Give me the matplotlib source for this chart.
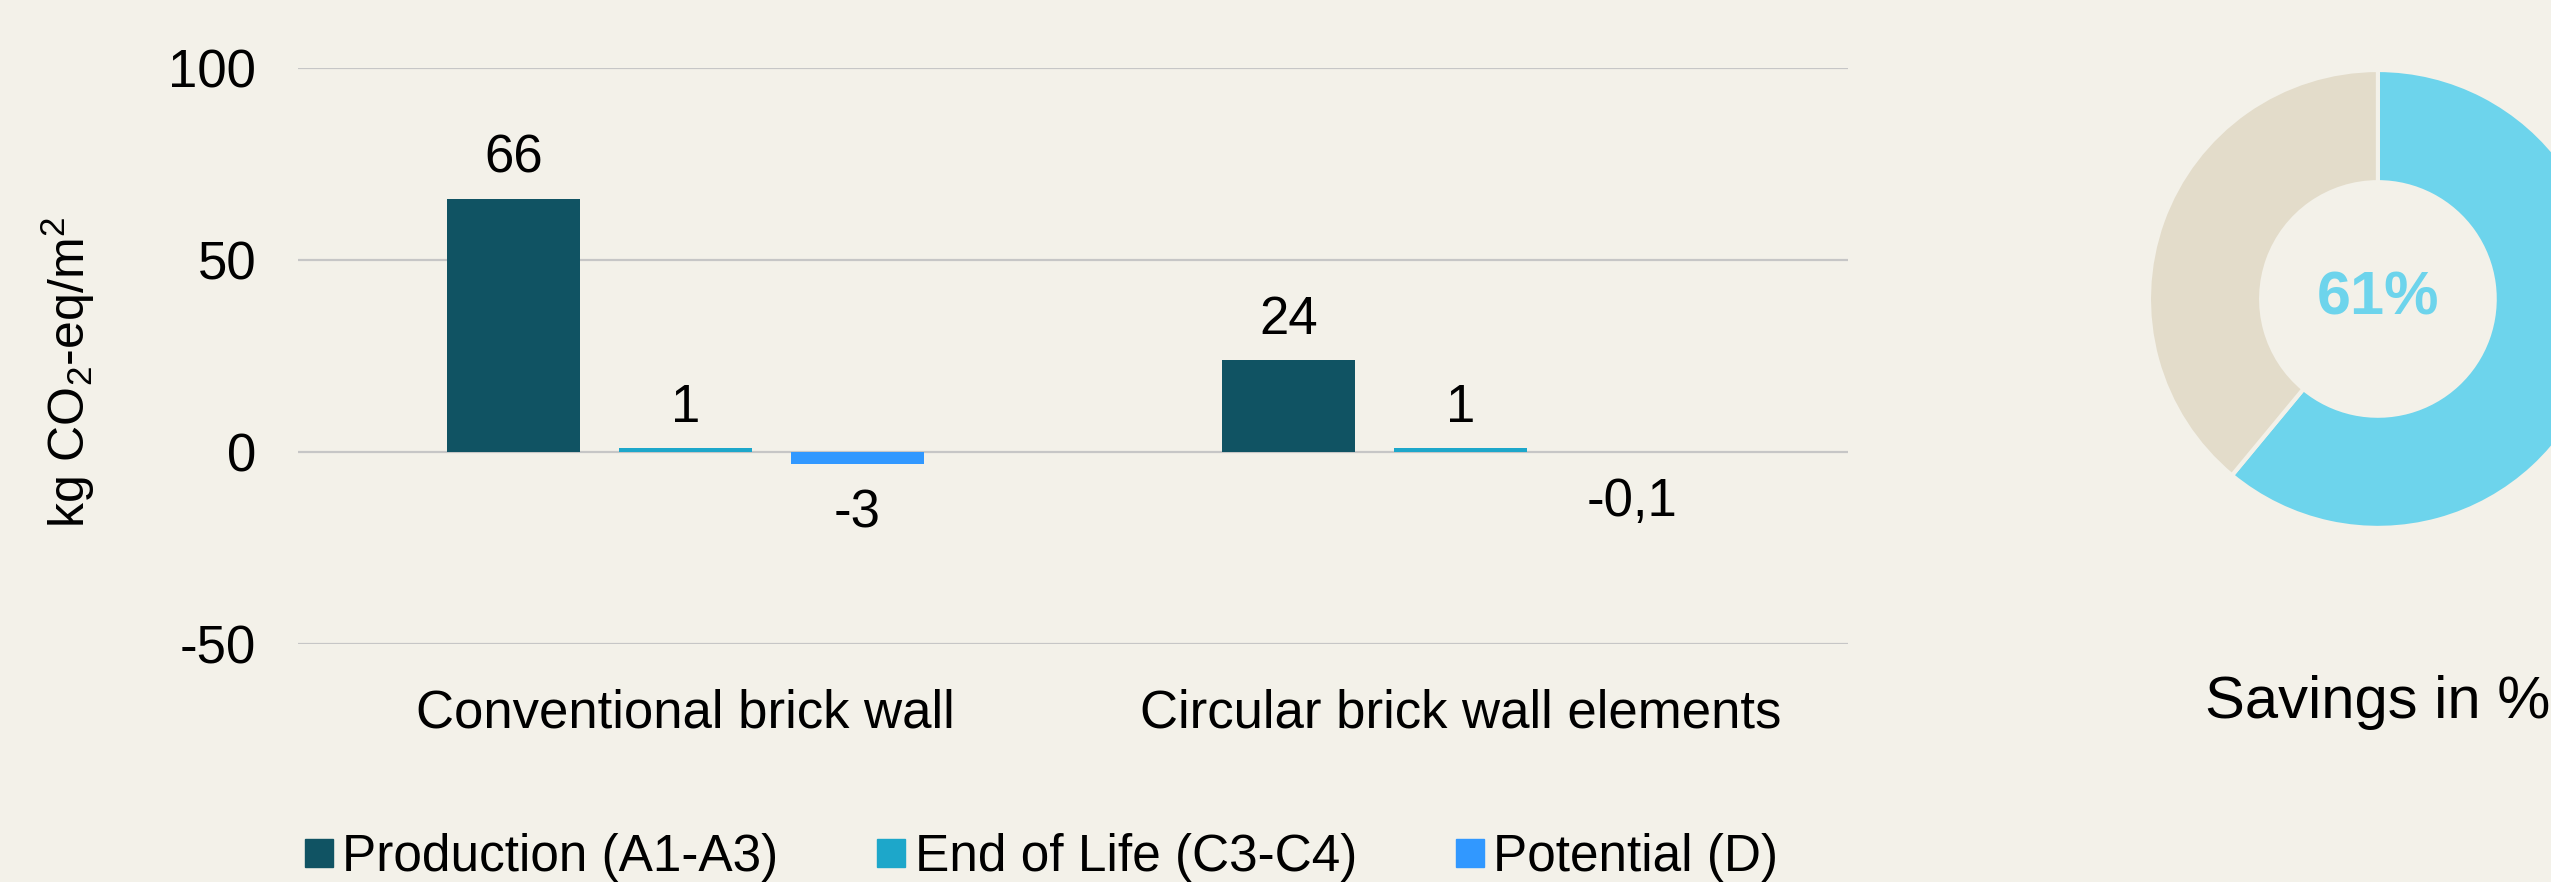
import numpy as np
import matplotlib
matplotlib.use("Agg")
import matplotlib.pyplot as plt
from matplotlib.lines import Line2D

# data
categories = ["Conventional brick wall", "Circular brick wall elements"]
series_names = ["Production (A1-A3)", "End of Life (C3-C4)", "Potential (D)"]
production = [66, 24]
end_of_life = [1, 1]
potential = [-3, -0.1]
value_labels = [["66", "24"], ["1", "1"], ["-3", "-0,1"]]
yticks = [-50, 0, 50, 100]

savings_pct = 61

bg = "#F3F1E9"
colors = ["#105363", "#1DA7CA", "#3198FF"]
donut_colors = ["#6DD4EC", "#E3DCCA"]
grid_c = "#C6C6C6"

plt.rcParams["font.family"] = ["Liberation Sans", "DejaVu Sans"]
plt.rcParams["mathtext.fontset"] = "custom"
plt.rcParams["mathtext.rm"] = "Liberation Sans"
plt.rcParams["mathtext.it"] = "Liberation Sans"
plt.rcParams["axes.unicode_minus"] = False

fs = 38
fig = plt.figure(figsize=(25.51, 8.82), dpi=100, facecolor=bg)

# bar chart
ax = fig.add_axes([0.1168, 0.2698, 0.6076, 0.6531])
ax.set_facecolor(bg)
x = np.arange(len(categories))
w = 0.172
step = 0.222
all_series = [production, end_of_life, potential]
for i, (vals, c) in enumerate(zip(all_series, colors)):
    bars = ax.bar(x + (i - 1) * step, vals, width=w, color=c, zorder=3)
    pad = 11 if min(vals) >= 0 else 18
    ax.bar_label(bars, labels=value_labels[i], padding=pad, fontsize=fs, color="black")

ax.set_xlim(-0.5, 1.5)
ax.set_ylim(-50, 100)
ax.set_yticks(yticks)
ax.set_xticks(x)
ax.set_xticklabels(categories)
ax.yaxis.grid(True, color=grid_c, linewidth=1.6)
ax.set_axisbelow(True)
ax.tick_params(axis="both", length=0, labelsize=fs)
ax.tick_params(axis="y", pad=30)
ax.tick_params(axis="x", pad=32)
for s in ax.spines.values():
    s.set_visible(False)

fig.text(0.0267, 0.578, r"kg CO$_2$-eq/m$^2$", rotation=90, fontsize=36,
         ha="center", va="center")

# legend
handles = [Line2D([], [], marker="s", linestyle="none", markersize=20,
                  markerfacecolor=c, markeredgecolor=c) for c in colors]
fig.legend(handles, series_names, loc="center", bbox_to_anchor=(0.408, 0.028),
           ncol=3, frameon=False, fontsize=37, handletextpad=0.15,
           columnspacing=1.9, handlelength=0.6, borderpad=0)

# donut
ax2 = fig.add_axes([0.8424, 0.4014, 0.1795, 0.5193])
ax2.set_facecolor(bg)
ax2.pie([savings_pct, 100 - savings_pct], colors=donut_colors, startangle=90,
        counterclock=False, radius=1,
        wedgeprops=dict(width=0.49, edgecolor=bg, linewidth=3))
ax2.set_xlim(-1, 1)
ax2.set_ylim(-1, 1)
ax2.set_aspect("equal")
ax2.text(0, 0, f"{savings_pct}%", ha="center", va="center", fontsize=44,
         fontweight="bold", color=donut_colors[0])
fig.text(2378 / 2551, 1 - 703 / 882, "Savings in %", ha="center", va="center",
         fontsize=43)

fig.savefig("out.png", dpi=100, facecolor=bg)
